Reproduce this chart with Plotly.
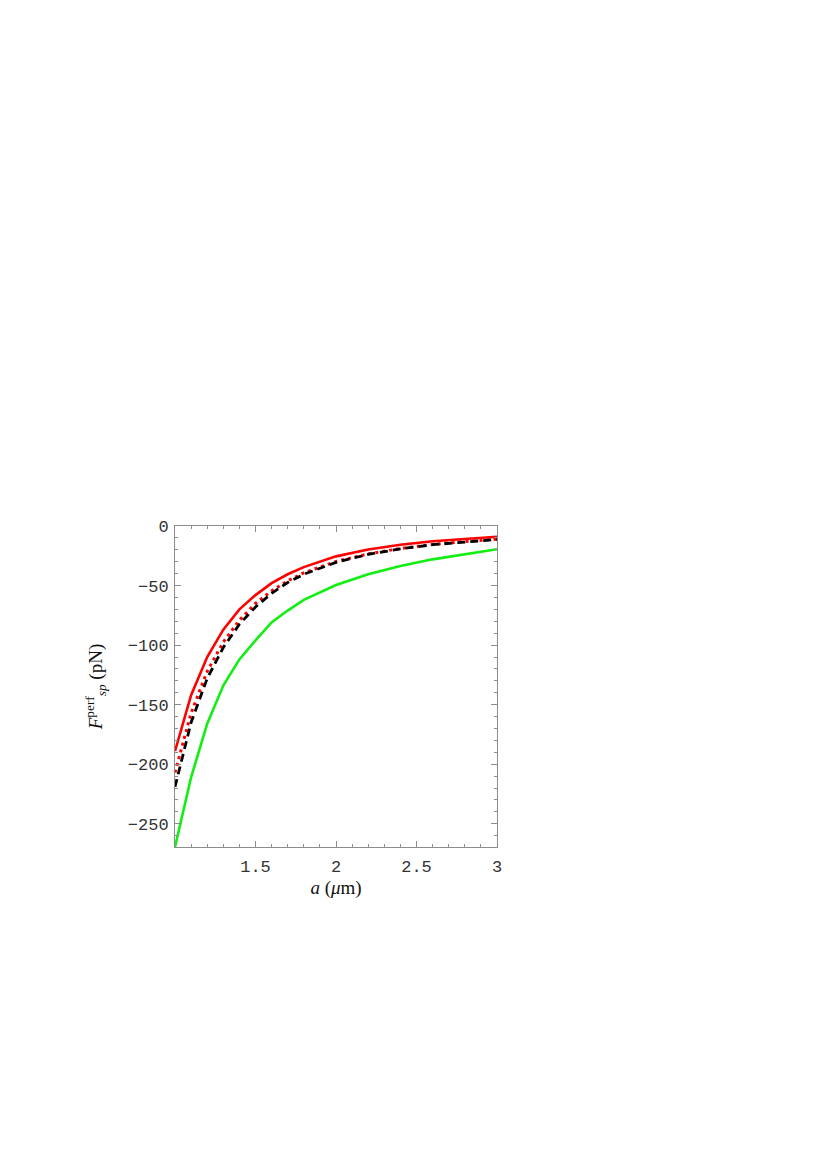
import plotly.graph_objects as go

# separation a (micrometres)
a_um = [1.0, 1.1, 1.2, 1.3, 1.4, 1.5, 1.6, 1.7, 1.8, 2.0, 2.2, 2.4, 2.6, 2.8, 3.0]

# force values (pN)
force_red_solid = [-189, -142, -110, -87, -70, -58, -48, -40.5, -34.5, -25.5,
                   -19.8, -15.8, -12.8, -10.7, -9.0]
force_red_dotted = [-207, -157, -122, -97.5, -79, -65, -54.5, -46, -39.3, -29.8,
                    -23.4, -18.9, -15.5, -13.0, -11.2]
force_black_dashed = [-219, -165, -128, -102, -82.5, -68, -56.5, -47.5, -40.5, -30.5,
                      -23.8, -19.2, -15.7, -13.2, -11.3]
force_green = [-269.5, -211, -166, -134, -112, -96, -81, -71, -62, -49.5,
               -40.5, -33.5, -28, -23.5, -19.5]

x_ticks = [1.5, 2, 2.5, 3]
x_tick_labels = ["1.5", "2", "2.5", "3"]
y_ticks = [0, -50, -100, -150, -200, -250]
y_tick_labels = ["0", "\u221250", "\u2212100", "\u2212150", "\u2212200", "\u2212250"]

FRAME = "#8c8c8c"
TICK_FONT = dict(family="Liberation Mono, Courier New, monospace", size=17, color="#333")
TITLE_FONT = dict(family="Liberation Serif, DejaVu Serif, serif", size=19, color="#111")

fig = go.Figure()

fig.add_trace(go.Scatter(x=a_um, y=force_green, mode="lines",
                         line=dict(color="#11ee11", width=2.6)))
fig.add_trace(go.Scatter(x=a_um, y=force_red_solid, mode="lines",
                         line=dict(color="#ff0000", width=2.6)))
fig.add_trace(go.Scatter(x=a_um, y=force_red_dotted, mode="lines",
                         line=dict(color="#ff0000", width=3, dash="3px,4px")))
fig.add_trace(go.Scatter(x=a_um, y=force_black_dashed, mode="lines",
                         line=dict(color="#000000", width=2.8, dash="8px,5px")))

axis_common = dict(
    showgrid=False,
    zeroline=False,
    showline=True,
    linecolor=FRAME,
    linewidth=1,
    mirror="ticks",
    ticks="inside",
    ticklen=6,
    tickwidth=1,
    tickcolor=FRAME,
    tickfont=TICK_FONT,
)

fig.update_xaxes(
    range=[1, 3],
    tickvals=x_ticks,
    ticktext=x_tick_labels,
    ticklabelstandoff=4,
    minor=dict(ticks="inside", dtick=0.1, ticklen=3, tickcolor=FRAME, tick0=1),
    title=dict(text="<i>a</i> (<i>\u03bc</i>m)", font=TITLE_FONT, standoff=2),
    **axis_common,
)
fig.update_yaxes(
    range=[-269.5, 0],
    tickvals=y_ticks,
    ticktext=y_tick_labels,
    ticklabelstandoff=2,
    minor=dict(ticks="inside", dtick=10, ticklen=3, tickcolor=FRAME, tick0=0),
    title=dict(text="<i>F</i><sup>perf</sup><sub><i>sp</i></sub> (pN)",
               font=TITLE_FONT, standoff=20),
    **axis_common,
)

fig.update_layout(
    width=812,
    height=1154,
    autosize=False,
    showlegend=False,
    plot_bgcolor="white",
    paper_bgcolor="white",
    margin=dict(l=167, r=323, t=518, b=315),
)

fig.write_html("out.html")
